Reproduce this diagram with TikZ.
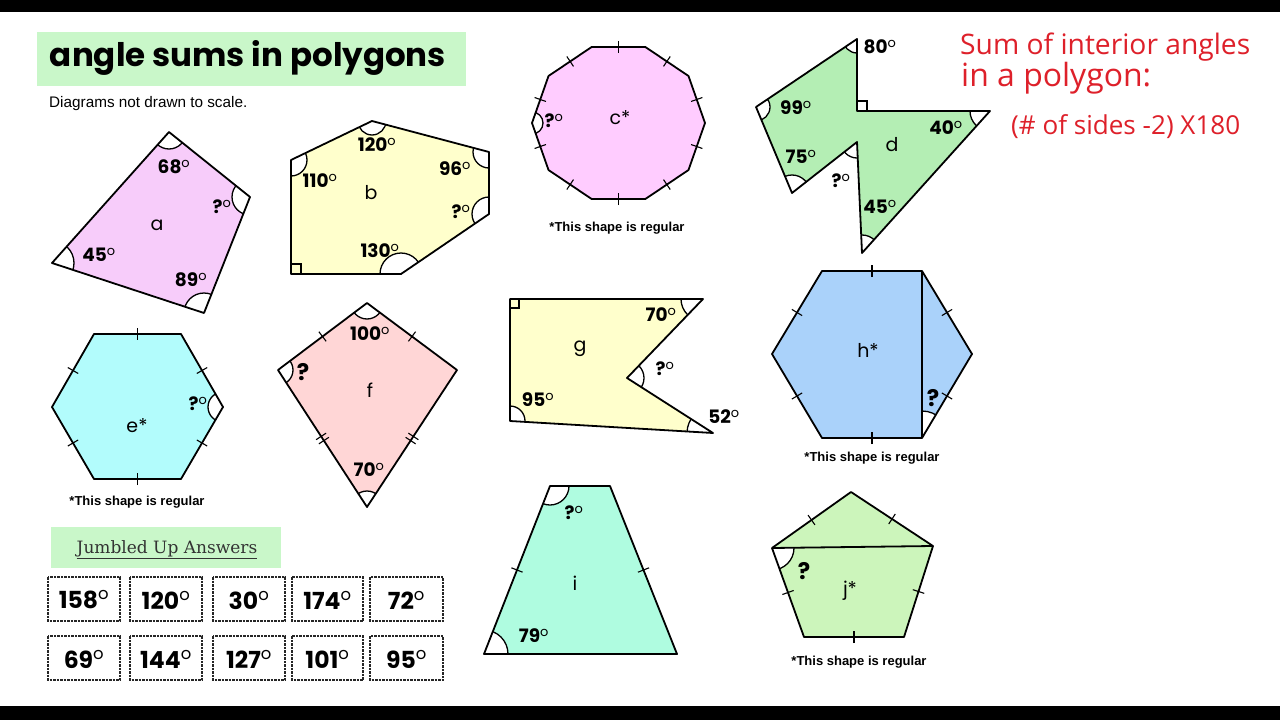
\documentclass[tikz,border=0pt]{standalone}
\usepackage{fontspec}
\usepackage{graphicx}
\usetikzlibrary{calc}
\setmainfont{Liberation Sans}
\newfontfamily\pop{Poppins}
\newfontfamily\slab{DejaVu Serif}
\newfontfamily\hand{Open Sans}
\definecolor{titlegreen}{RGB}{201,247,201}
\definecolor{pinka}{RGB}{247,204,250}
\definecolor{pinkc}{RGB}{255,204,255}
\definecolor{yel}{RGB}{255,255,204}
\definecolor{greend}{RGB}{180,238,180}
\definecolor{cyane}{RGB}{178,252,252}
\definecolor{pinkf}{RGB}{255,214,214}
\definecolor{blueh}{RGB}{170,210,250}
\definecolor{aquai}{RGB}{175,252,224}
\definecolor{greenj}{RGB}{204,245,187}
\definecolor{redhand}{RGB}{222,32,42}
\newcommand\dg{\textsuperscript{\mdseries o}}
\newcommand\angsec[4]{\begin{scope}\clip (#1) -- (#2) -- (#3) -- cycle; \draw[arcw] (#1) circle[radius=#4pt]; \end{scope}}
\newcommand\tk[2]{\draw[tickline] ($(#1)!.5!(#2)!6pt!90:(#2)$) -- ($(#1)!.5!(#2)!6pt!-90:(#2)$);}
\newcommand\dtk[2]{\draw[tickline] ($(#1)!.5!(#2)!2.5pt!(#2)!6pt!90:(#2)$) -- ($(#1)!.5!(#2)!2.5pt!(#2)!6pt!-90:(#2)$);
  \draw[tickline] ($(#1)!.5!(#2)!-2.5pt!(#2)!6pt!90:(#2)$) -- ($(#1)!.5!(#2)!-2.5pt!(#2)!6pt!-90:(#2)$);}
\tikzset{
  poly/.style={line width=1.8pt, line join=round},
  arcw/.style={fill=white, draw=black, line width=1.3pt},
  tickline/.style={line width=1.1pt},
  lab/.style={font=\pop\bfseries\fontsize{18.5}{18.5}\selectfont, inner sep=0pt},
  qlab/.style={font=\pop\bfseries\fontsize{23}{23}\selectfont, inner sep=0pt},
  letr/.style={font=\pop\fontsize{19}{19}\selectfont, inner sep=0pt},
  note/.style={font=\bfseries\fontsize{13}{13}\selectfont, inner sep=0pt},
  ansbox/.style={draw=black!85, line width=1.3pt, dash pattern=on 2.5pt off 1pt, fill=white},
  anstxt/.style={font=\pop\bfseries\fontsize{23.5}{23.5}\selectfont, inner sep=0pt},
  rsq/.style={line width=1.1pt}
}
\begin{document}
\begin{tikzpicture}[x=1pt,y=-1pt]
\useasboundingbox (0,0) rectangle (1280,720);
\fill[white] (0,0) rectangle (1280,720);
\fill[black] (0,0) rectangle (1280,12);
\fill[black] (0,706) rectangle (1280,720);

% title
\fill[titlegreen] (37,32) rectangle (466,86);
\node[inner sep=0pt] (title) at (248,58) {\resizebox{396pt}{!}{\pop\bfseries angle sums in polygons}};
\node[anchor=west, inner sep=0pt, font=\fontsize{15.3}{15.3}\selectfont] (scale) at (49,104) {Diagrams not drawn to scale.};

% ---------- a ----------
\coordinate (a1) at (169,132); \coordinate (a2) at (250,197);
\coordinate (a3) at (204,313); \coordinate (a4) at (52,263);
\fill[pinka] (a1) -- (a2) -- (a3) -- (a4) -- cycle;
\angsec{a1}{a2}{a4}{17} \angsec{a2}{a1}{a3}{18} \angsec{a3}{a2}{a4}{20} \angsec{a4}{a3}{a1}{22}
\draw[poly] (a1) -- (a2) -- (a3) -- (a4) -- cycle;
\node[lab] (la1) at (174,167) {68\dg};
\node[lab] (la2) at (222,207) {?\dg};
\node[letr] (la) at (157,225) {a};
\node[lab] (la4) at (99,255) {45\dg};
\node[lab] (la3) at (191,280) {89\dg};

% ---------- b ----------
\coordinate (b1) at (291,160); \coordinate (b2) at (372,121); \coordinate (b3) at (489,152);
\coordinate (b4) at (489,214); \coordinate (b5) at (401,274); \coordinate (b6) at (291,274);
\fill[yel] (b1) -- (b2) -- (b3) -- (b4) -- (b5) -- (b6) -- cycle;
\angsec{b1}{b2}{b6}{16} \angsec{b2}{b1}{b3}{14} \angsec{b3}{b2}{b4}{16}
\angsec{b4}{b3}{b5}{17} \angsec{b5}{b4}{b6}{21}
\draw[poly] (b1) -- (b2) -- (b3) -- (b4) -- (b5) -- (b6) -- cycle;
\draw[rsq] (291,264) -- (301,264) -- (301,274);
\node[lab] (lb2) at (377,145) {120\dg};
\node[lab] (lb1) at (320,181) {110\dg};
\node[lab] (lb3) at (455,169) {96\dg};
\node[lab] (lb4) at (461,212) {?\dg};
\node[letr] (lb) at (371,193) {b};
\node[lab] (lb5) at (380,251) {130\dg};

% ---------- c ----------
\foreach \k in {0,...,9} \coordinate (c\k) at ({618.5+86.5*cos(36*\k)},{123+80*sin(36*\k)});
\fill[pinkc] (c0) -- (c1) -- (c2) -- (c3) -- (c4) -- (c5) -- (c6) -- (c7) -- (c8) -- (c9) -- cycle;
\angsec{c5}{c4}{c6}{11}
\draw[poly] (c0) -- (c1) -- (c2) -- (c3) -- (c4) -- (c5) -- (c6) -- (c7) -- (c8) -- (c9) -- cycle;
\tk{c0}{c1} \tk{c1}{c2} \tk{c2}{c3} \tk{c3}{c4} \tk{c4}{c5}
\tk{c5}{c6} \tk{c6}{c7} \tk{c7}{c8} \tk{c8}{c9} \tk{c9}{c0}
\node[lab] (lc5) at (554,121) {?\dg};
\node[letr] (lc) at (620,118) {c*};
\node[note] (nc) at (617,228) {*This shape is regular};

% ---------- d ----------
\coordinate (d1) at (857,39); \coordinate (d2) at (857,111); \coordinate (d3) at (990,111);
\coordinate (d4) at (862,253); \coordinate (d5) at (857,142); \coordinate (d6) at (792,193);
\coordinate (d7) at (756,107);
\fill[greend] (d1) -- (d2) -- (d3) -- (d4) -- (d5) -- (d6) -- (d7) -- cycle;
\angsec{d1}{d2}{d7}{14} \angsec{d3}{d2}{d4}{20} \angsec{d4}{d3}{d5}{18}
\angsec{d5}{d4}{d6}{16} \angsec{d6}{d5}{d7}{18} \angsec{d7}{d6}{d1}{14}
\draw[poly] (d1) -- (d2) -- (d3) -- (d4) -- (d5) -- (d6) -- (d7) -- cycle;
\draw[rsq] (857,101) -- (867,101) -- (867,111);
\node[lab] (ld1) at (880,47) {80\dg};
\node[lab] (ld7) at (796,108) {99\dg};
\node[lab] (ld6) at (801,157) {75\dg};
\node[lab] (ld5) at (841,181) {?\dg};
\node[letr] (ld) at (892,145) {d};
\node[lab] (ld3) at (946,128) {40\dg};
\node[lab] (ld4) at (880,207) {45\dg};

% red handwriting
\node[anchor=west, inner sep=0pt, text=redhand] (r1) at (960,47) {\resizebox{290pt}{!}{\hand Sum of interior angles}};
\node[anchor=west, inner sep=0pt, text=redhand] (r2) at (961,78) {\resizebox{190pt}{!}{\hand in a polygon:}};
\node[anchor=west, inner sep=0pt, text=redhand] (r3) at (1011,127) {\resizebox{229pt}{!}{\hand (\# of sides -2) X180}};

% ---------- e ----------
\coordinate (e1) at (52,407); \coordinate (e2) at (94,334); \coordinate (e3) at (181,334);
\coordinate (e4) at (223,407); \coordinate (e5) at (181,479); \coordinate (e6) at (94,479);
\fill[cyane] (e1) -- (e2) -- (e3) -- (e4) -- (e5) -- (e6) -- cycle;
\angsec{e4}{e3}{e5}{15}
\draw[poly] (e1) -- (e2) -- (e3) -- (e4) -- (e5) -- (e6) -- cycle;
\tk{e1}{e2} \tk{e2}{e3} \tk{e3}{e4} \tk{e4}{e5} \tk{e5}{e6} \tk{e6}{e1}
\node[lab] (le4) at (198,404) {?\dg};
\node[letr] (le) at (137,426) {e*};
\node[note] (ne) at (137,502) {*This shape is regular};

% ---------- f ----------
\coordinate (f1) at (367,303); \coordinate (f2) at (457,370);
\coordinate (f3) at (367,507); \coordinate (f4) at (278,370);
\fill[pinkf] (f1) -- (f2) -- (f3) -- (f4) -- cycle;
\angsec{f1}{f2}{f4}{16} \angsec{f4}{f1}{f3}{15} \angsec{f3}{f2}{f4}{16}
\draw[poly] (f1) -- (f2) -- (f3) -- (f4) -- cycle;
\tk{f4}{f1} \tk{f1}{f2} \dtk{f4}{f3} \dtk{f3}{f2}
\node[lab] (lf1) at (370,334) {100\dg};
\node[qlab] (lf4) at (303,372) {?};
\node[letr] (lf) at (370,390) {f};
\node[lab] (lf3) at (369,470) {70\dg};

% ---------- g ----------
\coordinate (g1) at (510,299); \coordinate (g2) at (703,299); \coordinate (g3) at (627,378);
\coordinate (g4) at (713,433); \coordinate (g5) at (510,421);
\fill[yel] (g1) -- (g2) -- (g3) -- (g4) -- (g5) -- cycle;
\angsec{g2}{g1}{g3}{22} \angsec{g3}{g2}{g4}{17} \angsec{g4}{g3}{g5}{26} \angsec{g5}{g4}{g1}{15}
\draw[poly] (g1) -- (g2) -- (g3) -- (g4) -- (g5) -- cycle;
\draw[rsq] (510,308) -- (519,308) -- (519,299);
\node[letr] (lg) at (580,349) {g};
\node[lab] (lg2) at (661,315) {70\dg};
\node[lab] (lg3) at (665,369) {?\dg};
\node[lab] (lg5) at (538,400) {95\dg};
\node[lab] (lg4) at (724,417) {52\dg};

% ---------- h ----------
\coordinate (h1) at (772,354); \coordinate (h2) at (822,271); \coordinate (h3) at (922,271);
\coordinate (h4) at (972,354); \coordinate (h5) at (922,438); \coordinate (h6) at (822,438);
\fill[blueh] (h1) -- (h2) -- (h3) -- (h4) -- (h5) -- (h6) -- cycle;
\angsec{h5}{h3}{h4}{27}
\draw[poly] (h1) -- (h2) -- (h3) -- (h4) -- (h5) -- (h6) -- cycle;
\draw[poly] (h3) -- (h5);
\tk{h1}{h2} \tk{h2}{h3} \tk{h3}{h4} \tk{h4}{h5} \tk{h5}{h6} \tk{h6}{h1}
\node[letr] (lh) at (868,350) {h*};
\node[qlab] (lh5) at (933,398) {?};
\node[note] (nh) at (872,458) {*This shape is regular};

% ---------- i ----------
\coordinate (i1) at (550,486); \coordinate (i2) at (610,486);
\coordinate (i3) at (677,654); \coordinate (i4) at (484,654);
\fill[aquai] (i1) -- (i2) -- (i3) -- (i4) -- cycle;
\angsec{i1}{i2}{i4}{19} \angsec{i4}{i3}{i1}{24}
\draw[poly] (i1) -- (i2) -- (i3) -- (i4) -- cycle;
\tk{i4}{i1} \tk{i2}{i3}
\node[lab] (li1) at (574,513) {?\dg};
\node[letr] (li) at (575,583) {i};
\node[lab] (li4) at (534,636) {79\dg};

% ---------- j ----------
\coordinate (j1) at (851,492); \coordinate (j2) at (933,546); \coordinate (j3) at (904,637);
\coordinate (j4) at (804,637); \coordinate (j5) at (772,548);
\fill[greenj] (j1) -- (j2) -- (j3) -- (j4) -- (j5) -- cycle;
\angsec{j5}{j2}{j4}{22}
\draw[poly] (j1) -- (j2) -- (j3) -- (j4) -- (j5) -- cycle;
\draw[poly] (j5) -- (j2);
\tk{j5}{j1} \tk{j1}{j2} \tk{j2}{j3} \tk{j3}{j4} \tk{j4}{j5}
\node[qlab] (lj5) at (804,571) {?};
\node[letr] (lj) at (850,591) {j*};
\node[note] (nj) at (859,662) {*This shape is regular};

% ---------- answers ----------
\fill[titlegreen] (51,527) rectangle (281,568);
\node[font=\slab\fontsize{17}{17}\selectfont, text=black!80, inner sep=0pt] (jumb) at (167,550) {\underline{Jumbled Up Answers}};
\foreach \x/\w/\t [count=\n] in {48/120/158, 130/202/120, 213/285/30, 292/363/174, 370/443/72}{
  \draw[ansbox] (\x,577) rectangle (\w,621);
  \node[anstxt] (ans1\n) at ({(\x+\w)/2},600) {\t\dg};
}
\foreach \x/\w/\t [count=\n] in {48/120/69, 130/202/144, 213/285/127, 292/363/101, 370/443/95}{
  \draw[ansbox] (\x,636) rectangle (\w,680);
  \node[anstxt] (ans2\n) at ({(\x+\w)/2},659) {\t\dg};
}
\end{tikzpicture}
\end{document}
